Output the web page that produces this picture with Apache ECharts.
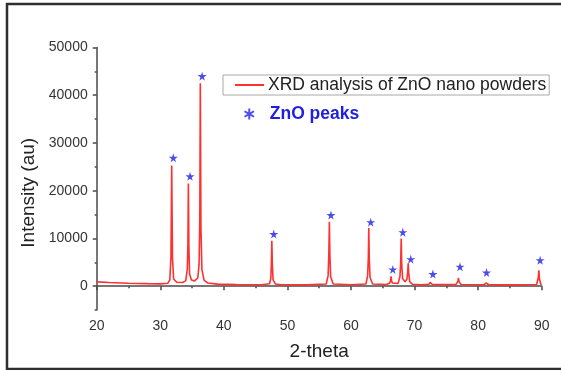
<!DOCTYPE html>
<html>
<head>
<meta charset="utf-8">
<script src="https://cdn.jsdelivr.net/npm/echarts@6/dist/echarts.min.js"></script>
<style>
html,body{margin:0;padding:0;background:#fff;}
#chart{width:561px;height:370px;}
</style>
</head>
<body>
<div id="chart"></div>
<script>
// ---- data ----
const twoTheta = [20,22,25,28,30,31.2,31.5,31.68,31.8,31.92,32.1,32.6,33.5,34.0,34.25,34.35,34.42,34.5,34.62,34.9,35.4,35.9,36.1,36.22,36.3,36.4,36.55,36.9,37.5,39,42,46,47.2,47.4,47.48,47.55,47.63,47.75,48.1,49,53,56.1,56.4,56.52,56.6,56.68,56.8,57.2,60,62.35,62.62,62.73,62.8,62.88,63.0,63.4,65.6,66.1,66.22,66.3,66.38,66.5,67.4,67.7,67.82,67.9,67.98,68.12,68.5,68.8,68.93,69.0,69.08,69.25,69.7,71,72.25,72.45,72.52,72.6,72.8,76.5,76.82,76.9,76.98,77.3,80.9,81.22,81.3,81.38,81.7,85,89.2,89.45,89.55,89.65,89.85,90];
const intensity = [900,760,620,530,480,620,1300,6000,25300,6000,1500,800,750,1100,3500,9000,21500,8000,2500,1300,1100,1700,4500,14000,42500,12000,3500,1200,650,420,320,280,500,1800,5000,9500,4500,1300,450,300,260,450,2200,7000,13500,6500,2000,450,280,450,2200,6000,12200,5500,1800,450,330,650,1200,2050,1200,650,550,2000,5000,10000,4500,1600,900,1500,3000,4800,2600,900,380,300,380,800,1200,750,350,320,1000,1750,1000,330,280,650,950,600,280,260,330,1700,3300,1500,400,350];
const starTheta = [32.05,34.68,36.58,47.85,56.85,63.1,66.58,68.15,69.4,72.88,77.15,81.32,89.75];
const starIntensity = [26900,23000,44000,10900,14900,13400,3500,11300,5650,2520,4070,2850,5430];
const xTicks = [20,30,40,50,60,70,80,90];
const yTicks = [0,10000,20000,30000,40000,50000];
const lineName = 'XRD analysis of ZnO nano powders';
const starName = 'ZnO peaks';

// ---- layout ----
const W = 561, H = 370;
const gLeft = 96.7, gRight = 19.3, gTop = 47.5, gBottom = 60;
const yMin = -5000, yMax = 50000;
const gHeight = H - gTop - gBottom;
const zeroBottom = gBottom + gHeight * (0 - yMin) / (yMax - yMin);

const starPath = 'path://M50,0 L61,35 L98,35 L68,57 L79,91 L50,70 L21,91 L32,57 L2,35 L39,35 Z';
const asteriskPath = 'path://M41,0 L59,0 L59,34.41 L88.8,17.21 L97.8,32.79 L68,50 L97.8,67.21 L88.8,82.79 L59,65.59 L59,100 L41,100 L41,65.59 L11.2,82.79 L2.2,67.21 L32,50 L2.2,32.79 L11.2,17.21 L41,34.41 Z';

const lineData = twoTheta.map((t, i) => [t, intensity[i]]);
const starData = starTheta.map((t, i) => [t, starIntensity[i]]);

const axisColor = '#4a4a4a';
const labelColor = '#333';
const font = 'Liberation Sans, Arial, sans-serif';

const chart = echarts.init(document.getElementById('chart'), null, {renderer: 'canvas'});
chart.setOption({
  backgroundColor: '#fff',
  animation: false,
  textStyle: {fontFamily: font},
  grid: [
    {left: gLeft, right: gRight, top: gTop, bottom: gBottom},
    {left: gLeft, right: gRight, top: gTop, bottom: zeroBottom}
  ],
  xAxis: [
    {
      type: 'value', gridIndex: 0, min: xTicks[0], max: xTicks[xTicks.length - 1], interval: 10,
      name: '2-theta', nameLocation: 'middle', nameGap: 32,
      nameTextStyle: {fontSize: 19, color: '#222', fontFamily: font},
      axisLine: {show: true, lineStyle: {color: axisColor, width: 1.5}},
      axisTick: {show: true, length: 4, inside: false, lineStyle: {color: axisColor, width: 1.5}},
      minorTick: {show: true, splitNumber: 2, length: 2, lineStyle: {color: axisColor, width: 1.5}},
      axisLabel: {fontSize: 14, color: labelColor, margin: 9, fontFamily: font, formatter: v => String(v)},
      splitLine: {show: false}
    },
    {type: 'value', gridIndex: 1, min: xTicks[0], max: xTicks[xTicks.length - 1], show: false}
  ],
  yAxis: [
    {
      type: 'value', gridIndex: 0, min: yMin, max: yMax, interval: 5000,
      name: 'Intensity (au)', nameLocation: 'middle', nameGap: 58, nameRotate: 90,
      nameTextStyle: {fontSize: 19, color: '#222', fontFamily: font, padding: [0, 28, 0, 0]},
      axisLine: {show: true, lineStyle: {color: axisColor, width: 1.5}},
      axisTick: {show: true, length: 2, lineStyle: {color: axisColor, width: 1.5}},
      axisLabel: {show: false},
      splitLine: {show: false}
    },
    {
      type: 'value', gridIndex: 1, min: yTicks[0], max: yTicks[yTicks.length - 1], interval: 10000,
      axisLine: {show: false},
      axisTick: {show: true, length: 4, lineStyle: {color: axisColor, width: 1.5}},
      axisLabel: {fontSize: 14, color: labelColor, margin: 9, fontFamily: font, formatter: v => String(v)},
      splitLine: {show: false}
    }
  ],
  legend: [
    {
      data: [{name: lineName, icon: 'rect'}], left: 223, top: 75, orient: 'vertical',
      borderColor: '#a8a8a8', borderWidth: 1, padding: [1, 3, 1, 12],
      itemWidth: 29, itemHeight: 2, itemGap: 0,
      itemStyle: {color: '#ff3030'},
      textStyle: {fontSize: 17.5, color: '#222', fontFamily: font, padding: [0, 0, 0, -1]}
    },
    {
      data: [{name: starName, icon: asteriskPath}], left: 244, top: 105,
      itemWidth: 11, itemHeight: 11, padding: 0,
      itemStyle: {color: '#2323e8'},
      textStyle: {fontSize: 17.5, color: '#1f1fe0', fontWeight: 'bold', fontFamily: font, padding: [0, 0, 0, 10]}
    }
  ],
  graphic: [
    {type: 'rect', shape: {x: 7, y: 4, width: 580, height: 365}, style: {fill: 'none', stroke: '#2e2e2e', lineWidth: 2.5}, silent: true, z: 100}
  ],
  series: [
    {
      name: lineName, type: 'line', xAxisIndex: 0, yAxisIndex: 0,
      data: lineData, symbol: 'none', showSymbol: false,
      lineStyle: {color: '#ff3030', width: 1.6}, itemStyle: {color: '#ff3030'},
      z: 2
    },
    {
      name: starName, type: 'scatter', xAxisIndex: 0, yAxisIndex: 0,
      data: starData, symbol: starPath, symbolSize: 9,
      itemStyle: {color: '#1f1fe6'}, z: 3
    }
  ]
});
</script>
</body>
</html>
